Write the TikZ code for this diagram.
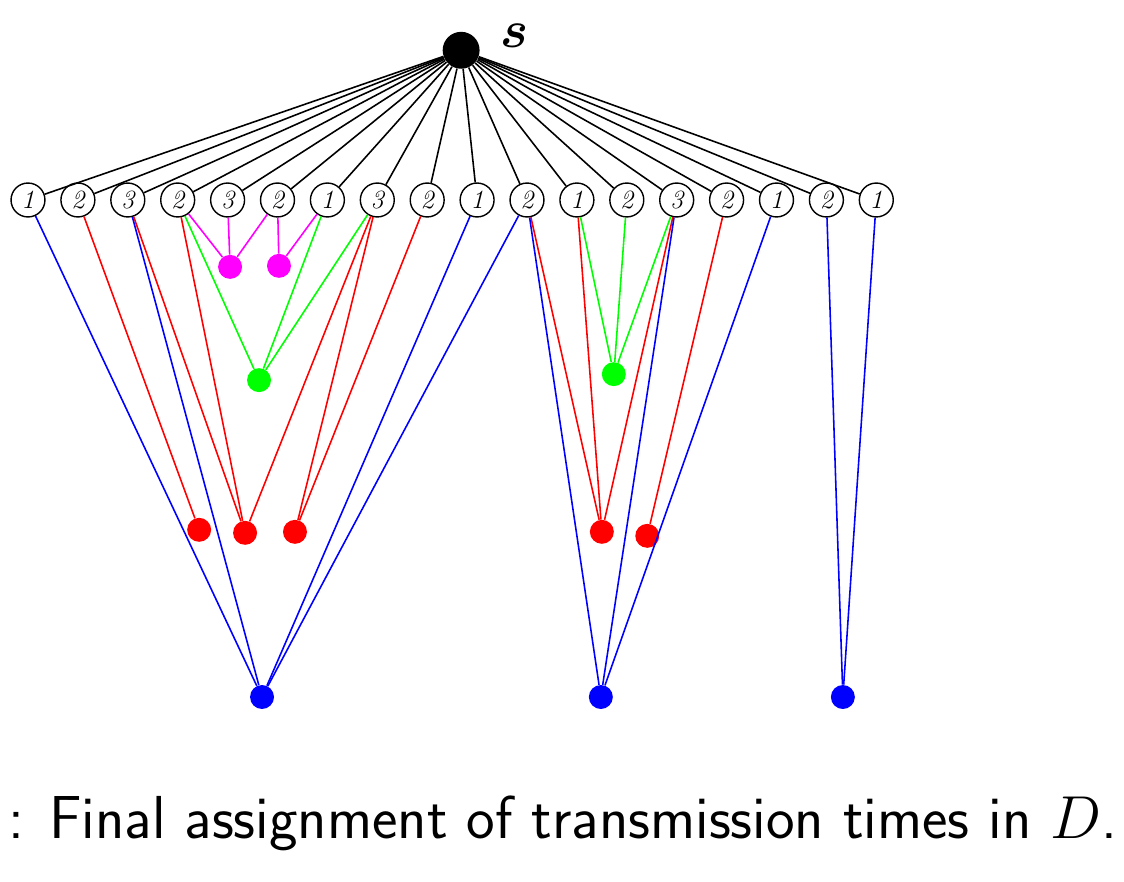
\RequirePackage{fix-cm}
\documentclass[tikz,border=0pt]{standalone}
\usepackage{amsmath}
\usetikzlibrary{positioning}

\definecolor{mag}{RGB}{255,0,255}
\definecolor{grn}{RGB}{0,255,0}

\begin{document}
\begin{tikzpicture}[
    slot/.style={circle, draw, line width=0.8pt, fill=white, minimum size=0.68cm, inner sep=0pt, font=\fontsize{15}{15}\selectfont\itshape},
    dot/.style={circle, fill, inner sep=0pt, minimum size=0.48cm},
    edge/.style={line width=0.9pt}
  ]
      \useasboundingbox (-0.561,4.008) rectangle (21.964,-13.667);

      % source
      \node[circle, fill=black, inner sep=0pt, minimum size=0.74cm] (s) at (8.68,3.0) {};
      \node[font=\fontsize{30}{30}\selectfont] (slab) at (9.74,3.30) {$\boldsymbol{s}$};

      % first layer
      \node[slot] (n1) at (0,0) {1};
      \node[slot] (n2) at (1,0) {2};
      \node[slot] (n3) at (2,0) {3};
      \node[slot] (n4) at (3,0) {2};
      \node[slot] (n5) at (4,0) {3};
      \node[slot] (n6) at (5,0) {2};
      \node[slot] (n7) at (6,0) {1};
      \node[slot] (n8) at (7,0) {3};
      \node[slot] (n9) at (8,0) {2};
      \node[slot] (n10) at (9,0) {1};
      \node[slot] (n11) at (10,0) {2};
      \node[slot] (n12) at (11,0) {1};
      \node[slot] (n13) at (12,0) {2};
      \node[slot] (n14) at (13,0) {3};
      \node[slot] (n15) at (14,0) {2};
      \node[slot] (n16) at (15,0) {1};
      \node[slot] (n17) at (16,0) {2};
      \node[slot] (n18) at (17,0) {1};

      % receivers
      \node[dot, fill=mag] (m1) at (4.05,-1.34) {};
      \node[dot, fill=mag] (m2) at (5.03,-1.32) {};
      \node[dot, fill=grn] (g1) at (4.63,-3.61) {};
      \node[dot, fill=grn] (g2) at (11.74,-3.49) {};
      \node[dot, fill=red] (r1) at (3.43,-6.61) {};
      \node[dot, fill=red] (r2) at (4.35,-6.67) {};
      \node[dot, fill=red] (r3) at (5.35,-6.65) {};
      \node[dot, fill=red] (r4) at (11.50,-6.65) {};
      \node[dot, fill=red] (r5) at (12.41,-6.73) {};
      \node[dot, fill=blue] (b1) at (4.69,-9.96) {};
      \node[dot, fill=blue] (b2) at (11.48,-9.96) {};
      \node[dot, fill=blue] (b3) at (16.33,-9.96) {};

      \foreach \i in {1,...,18}
        \draw[edge] (s) -- (n\i);

      \draw[edge, mag] (n4) -- (m1);
      \draw[edge, mag] (n5) -- (m1);
      \draw[edge, mag] (n6) -- (m1);
      \draw[edge, mag] (n6) -- (m2);
      \draw[edge, mag] (n7) -- (m2);

      \draw[edge, grn] (n4) -- (g1);
      \draw[edge, grn] (n7) -- (g1);
      \draw[edge, grn] (n8) -- (g1);
      \draw[edge, grn] (n12) -- (g2);
      \draw[edge, grn] (n13) -- (g2);
      \draw[edge, grn] (n14) -- (g2);

      \draw[edge, red] (n2) -- (r1);
      \draw[edge, red] (n3) -- (r2);
      \draw[edge, red] (n4) -- (r2);
      \draw[edge, red] (n8) -- (r2);
      \draw[edge, red] (n8) -- (r3);
      \draw[edge, red] (n9) -- (r3);
      \draw[edge, red] (n11) -- (r4);
      \draw[edge, red] (n12) -- (r4);
      \draw[edge, red] (n14) -- (r4);
      \draw[edge, red] (n15) -- (r5);

      \draw[edge, blue] (n1) -- (b1);
      \draw[edge, blue] (n3) -- (b1);
      \draw[edge, blue] (n10) -- (b1);
      \draw[edge, blue] (n11) -- (b1);
      \draw[edge, blue] (n11) -- (b2);
      \draw[edge, blue] (n14) -- (b2);
      \draw[edge, blue] (n16) -- (b2);
      \draw[edge, blue] (n17) -- (b3);
      \draw[edge, blue] (n18) -- (b3);

      \node[anchor=base west, inner sep=0pt, font=\sffamily\fontsize{34.6}{42}\selectfont] (cap) at (-0.40,-12.79) {: Final assignment of transmission times in $D$.};
\end{tikzpicture}
\end{document}
